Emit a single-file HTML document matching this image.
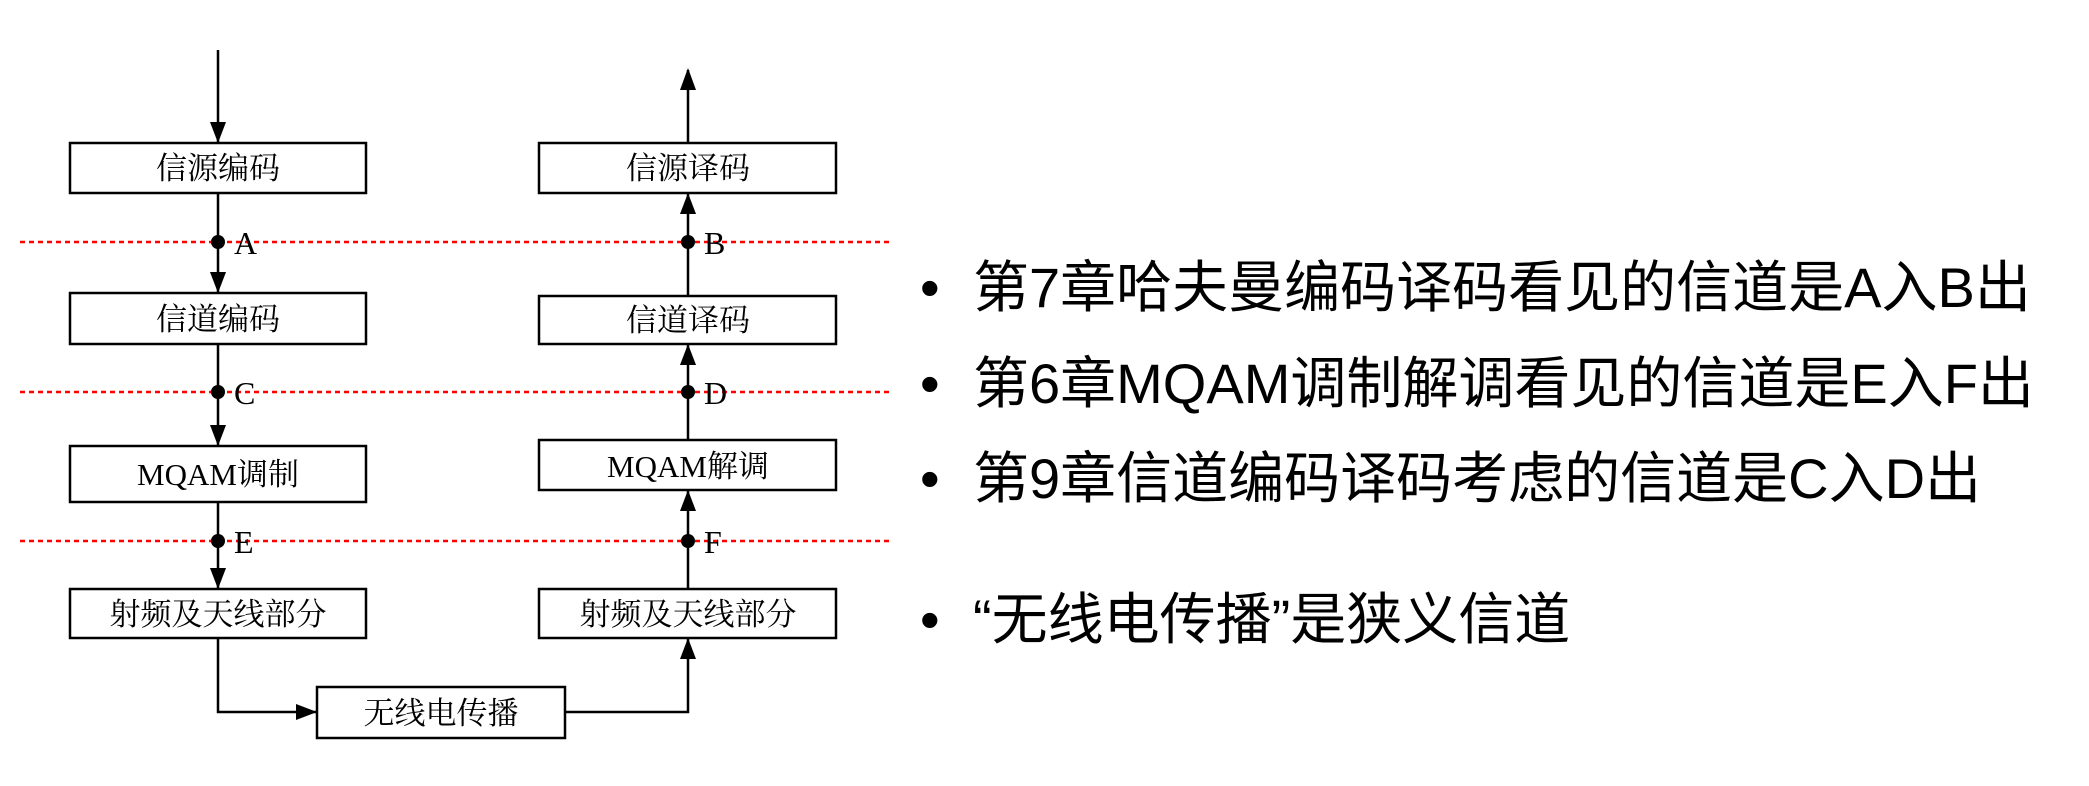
<!DOCTYPE html>
<html><head><meta charset="utf-8"><style>
html,body{margin:0;padding:0;background:#fff;}
body{width:2089px;height:786px;overflow:hidden;position:relative;}
svg{position:absolute;left:0;top:0;}
.b{font-family:"Liberation Serif","Noto Serif CJK SC",serif;font-size:31px;fill:#000;text-anchor:middle;}
.l{font-family:"Liberation Serif",serif;font-size:32px;fill:#000;}
.t{position:absolute;left:920px;font-family:"Liberation Sans","Noto Sans CJK SC",sans-serif;font-size:56px;color:#000;white-space:nowrap;line-height:1;}
.t span{display:inline-block;width:53px;}
</style></head><body>
<svg width="2089" height="786" viewBox="0 0 2089 786">
<g stroke="#f00" stroke-width="2.5" stroke-dasharray="5,4">
<line x1="20" y1="242" x2="890" y2="242"/>
<line x1="20" y1="392" x2="890" y2="392"/>
<line x1="20" y1="541" x2="890" y2="541"/>
</g>
<g fill="#fff" stroke="#000" stroke-width="2.5">
<rect x="70" y="143" width="296" height="50"/>
<rect x="70" y="293" width="296" height="51"/>
<rect x="70" y="446" width="296" height="56"/>
<rect x="70" y="589" width="296" height="49"/>
<rect x="539" y="143" width="297" height="50"/>
<rect x="539" y="296" width="297" height="48"/>
<rect x="539" y="440" width="297" height="50"/>
<rect x="539" y="589" width="297" height="49"/>
<rect x="317" y="687" width="248" height="51"/>
</g>
<g stroke="#000" stroke-width="2.5" fill="none">
<path d="M218,50 V142" />
<path d="M218,193 V292" />
<path d="M218,344 V445" />
<path d="M218,502 V588" />
<path d="M218,638 V712 H316" />
<path d="M565,712 H688 V639" />
<path d="M688,589 V491" />
<path d="M688,440 V345" />
<path d="M688,296 V194" />
<path d="M688,143 V70" />
</g>
<g fill="#000">
<path d="M210,122 L226,122 L218,143 z"/>
<path d="M210,272 L226,272 L218,293 z"/>
<path d="M210,425 L226,425 L218,446 z"/>
<path d="M210,568 L226,568 L218,589 z"/>
<path d="M296,704 L296,720 L317,712 z"/>
<path d="M680,659 L696,659 L688,638 z"/>
<path d="M680,511 L696,511 L688,490 z"/>
<path d="M680,365 L696,365 L688,344 z"/>
<path d="M680,214 L696,214 L688,193 z"/>
<path d="M680,90 L696,90 L688,68 z"/>
<circle cx="218" cy="242" r="7"/><circle cx="218" cy="392" r="7"/><circle cx="218" cy="541" r="7"/>
<circle cx="688" cy="242" r="7"/><circle cx="688" cy="392" r="7"/><circle cx="688" cy="541" r="7"/>
</g>
<text class="b" x="218" y="179">信源编码</text>
<text class="b" x="218" y="330">信道编码</text>
<text class="b" x="218" y="485">MQAM调制</text>
<text class="b" x="218" y="625">射频及天线部分</text>
<text class="b" x="688" y="179">信源译码</text>
<text class="b" x="688" y="331">信道译码</text>
<text class="b" x="688" y="477">MQAM解调</text>
<text class="b" x="688" y="625">射频及天线部分</text>
<text class="b" x="441" y="724">无线电传播</text>
<text class="l" x="234" y="254">A</text>
<text class="l" x="234" y="404">C</text>
<text class="l" x="234" y="553">E</text>
<text class="l" x="704" y="254">B</text>
<text class="l" x="704" y="404">D</text>
<text class="l" x="704" y="553">F</text>
</svg>
<div class="t" style="top:260px"><span>•</span>第7章哈夫曼编码译码看见的信道是A入B出</div>
<div class="t" style="top:356px"><span>•</span>第6章MQAM调制解调看见的信道是E入F出</div>
<div class="t" style="top:451px"><span>•</span>第9章信道编码译码考虑的信道是C入D出</div>
<div class="t" style="top:592px"><span>•</span>“无线电传播”是狭义信道</div>
</body></html>
